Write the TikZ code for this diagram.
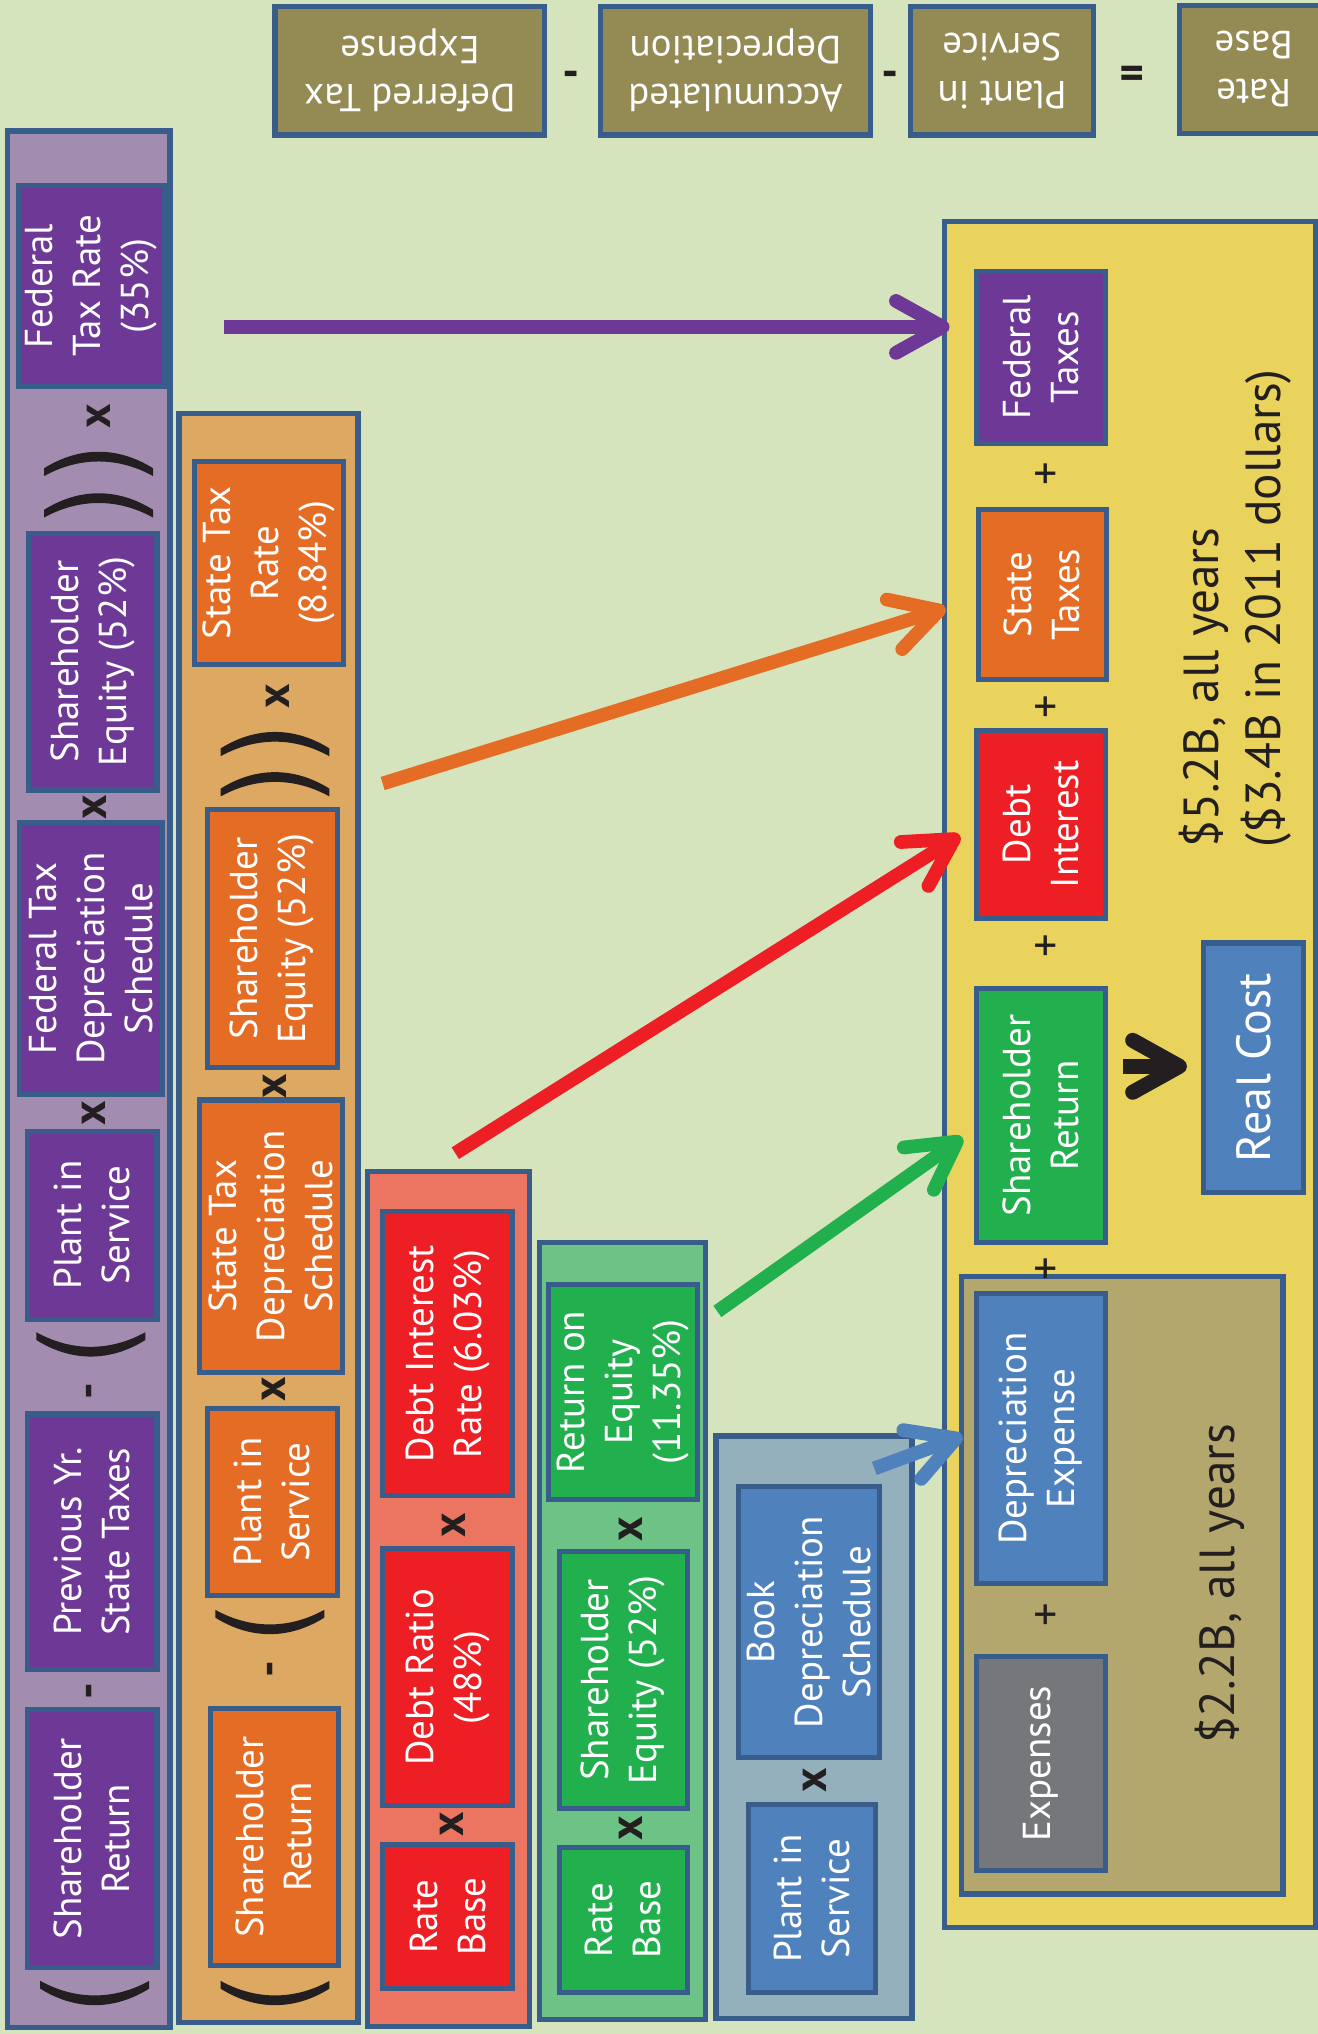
\documentclass[tikz,border=0pt]{standalone}
\usepackage{fontspec}
\setmainfont{PT Sans}
\usetikzlibrary{arrows.meta}
\definecolor{bg}{HTML}{D6E4BD}
\definecolor{bordc}{HTML}{385D8A}
\definecolor{cpurple}{HTML}{6E3996}
\definecolor{ppanel}{HTML}{A28CB0}
\definecolor{corange}{HTML}{E46C25}
\definecolor{opanel}{HTML}{DDA862}
\definecolor{cred}{HTML}{ED1F24}
\definecolor{rpanel}{HTML}{EC7562}
\definecolor{cgreen}{HTML}{22B04F}
\definecolor{gpanel}{HTML}{6DC385}
\definecolor{cblue}{HTML}{4F81BD}
\definecolor{bpanel}{HTML}{93B0BC}
\definecolor{cyellow}{HTML}{EAD35C}
\definecolor{cbrown}{HTML}{B4A76E}
\definecolor{cgray}{HTML}{76777B}
\definecolor{colive}{HTML}{948A54}
\definecolor{cblack}{HTML}{231F20}
\tikzset{
  bx/.style={draw=bordc, line width=2pt, text=white, align=center, inner sep=0pt,
    font=\fontsize{15}{18.5}\selectfont},
  panel/.style={draw=bordc, line width=2pt, inner sep=0pt},
  op/.style={font=\fontsize{18}{18}\selectfont, text=cblack, inner sep=0pt},
  opb/.style={font=\fontsize{18}{18}\selectfont\bfseries, text=cblack, inner sep=0pt},
  biglab/.style={font=\fontsize{19}{24}\selectfont, text=cblack, inner sep=0pt},
  arr/.style={line width=5.3pt, -{Straight Barb[length=18pt,width=20pt,round]}},
  rpar/.pic={\fill[cblack] (-42,4) .. controls (-15,-13) and (15,-13) .. (42,4)
     -- (42,10) .. controls (15,-5) and (-15,-5) .. (-42,10) -- cycle;}
}
\newcommand\mkbox[7]{\node[bx,fill=#2,rotate=90,minimum width={(#6-#4)*0.5pt},minimum height={(#5-#3)*0.5pt}] (#1) at ({(#3+#5)/2},{(#4+#6)/2}) {#7};}
\newcommand\mktop[6]{\node[bx,fill=colive,rotate=180,minimum width={(#4-#2)*0.5pt},minimum height={(#5-#3)*0.5pt}] (#1) at ({(#2+#4)/2},{(#3+#5)/2}) {#6};}
\newcommand\mkpanel[6]{\node[panel,fill=#2,minimum width={(#5-#3)*0.5pt},minimum height={(#6-#4)*0.5pt}] (#1) at ({(#3+#5)/2},{(#4+#6)/2}) {};}
\begin{document}
\begin{tikzpicture}[x=0.5pt,y=-0.5pt]
\fill[bg] (0,0) rectangle (1016,1568);
\useasboundingbox (0,0) rectangle (1016,1568);

% top row
\mktop{tdt}{212}{5}{420}{104}{Deferred Tax\\Expense}
\mktop{tad}{463}{5}{671}{104}{Accumulated\\Depreciation}
\mktop{tps}{702}{5}{843}{104}{Plant in\\Service}
\mktop{trb}{909}{4}{1024}{103}{Rate\\Base}
\node[opb,rotate=180] (t1) at (440,53) {-};
\node[opb,rotate=180] (t2) at (686,53) {-};
\node[opb,rotate=180] (t3) at (873,53) {=};

% panels
\mkpanel{ppan}{ppanel}{6}{101}{131}{1563}
\mkpanel{opan}{opanel}{138}{319}{276}{1559}
\mkpanel{rpan}{rpanel}{283}{903}{408}{1562}
\mkpanel{gpan}{gpanel}{416}{958}{544}{1557}
\mkpanel{bpan}{bpanel}{552}{1107}{703}{1556}
\mkpanel{ybox}{cyellow}{728}{171}{1014}{1486}
\mkpanel{brbox}{cbrown}{741}{984}{989}{1460}

% purple panel
\mkbox{pfr}{cpurple}{14}{143}{127}{298}{Federal\\Tax Rate\\(35\%)}
\mkbox{pse}{cpurple}{22}{411}{121}{609}{Shareholder\\Equity (52\%)}
\mkbox{pfd}{cpurple}{15}{634}{125}{844}{Federal Tax\\Depreciation\\Schedule}
\mkbox{pps}{cpurple}{21}{872}{121}{1017}{Plant in\\Service}
\mkbox{ppy}{cpurple}{21}{1090}{121}{1287}{Previous Yr.\\State Taxes}
\mkbox{psr}{cpurple}{21}{1318}{121}{1517}{Shareholder\\Return}
\node[opb,rotate=90] (p1) at (76,321) {x};
\node[opb,rotate=90] (p2) at (73,622) {x};
\node[opb,rotate=90] (p3) at (72,858) {x};
\node[opb,rotate=90] (p4) at (73,1072) {-};
\node[opb,rotate=90] (p5) at (73,1304) {-};
\pic at (76,357) {rpar};
\pic at (76,389) {rpar};
\pic[yscale=-1] at (70,1037) {rpar};
\pic[yscale=-1] at (73,1537) {rpar};

% orange panel
\mkbox{ostr}{corange}{150}{356}{265}{512}{State Tax\\Rate\\(8.84\%)}
\mkbox{ose}{corange}{160}{624}{260}{823}{Shareholder\\Equity (52\%)}
\mkbox{osd}{corange}{154}{848}{264}{1058}{State Tax\\Depreciation\\Schedule}
\mkbox{ops}{corange}{160}{1086}{260}{1230}{Plant in\\Service}
\mkbox{osr}{corange}{162}{1317}{261}{1515}{Shareholder\\Return}
\node[opb,rotate=90] (o1) at (214,537) {x};
\node[opb,rotate=90] (o2) at (212,837) {x};
\node[opb,rotate=90] (o3) at (211,1071) {x};
\node[opb,rotate=90] (o4) at (212,1287) {-};
\pic at (212,573) {rpar};
\pic at (212,604) {rpar};
\pic[yscale=-1] at (208,1251) {rpar};
\pic[yscale=-1] at (212,1537) {rpar};

% red panel
\mkbox{rdi}{cred}{295}{934}{395}{1153}{Debt Interest\\Rate (6.03\%)}
\mkbox{rdr}{cred}{295}{1194}{395}{1392}{Debt Ratio\\(48\%)}
\mkbox{rrb}{cred}{295}{1422}{395}{1533}{Rate\\Base}
\node[opb,rotate=90] (r1) at (350,1176) {x};
\node[opb,rotate=90] (r2) at (348,1406) {x};

% green panel
\mkbox{groe}{cgreen}{423}{990}{538}{1156}{Return on\\Equity\\(11.35\%)}
\mkbox{gse}{cgreen}{431}{1196}{530}{1394}{Shareholder\\Equity (52\%)}
\mkbox{grb}{cgreen}{431}{1424}{530}{1536}{Rate\\Base}
\node[opb,rotate=90] (g1) at (486,1179) {x};
\node[opb,rotate=90] (g2) at (486,1409) {x};

% blue panel
\mkbox{bbd}{cblue}{569}{1146}{678}{1355}{Book\\Depreciation\\Schedule}
\mkbox{bps}{cblue}{577}{1391}{675}{1536}{Plant in\\Service}
\node[opb,rotate=90] (b1) at (628,1372) {x};

% yellow box
\mkbox{yft}{cpurple}{753}{209}{852}{342}{Federal\\Taxes}
\mkbox{yst}{corange}{754}{393}{853}{524}{State\\Taxes}
\mkbox{ydi}{cred}{753}{563}{852}{708}{Debt\\Interest}
\mkbox{ysr}{cgreen}{753}{762}{852}{958}{Shareholder\\Return}
\mkbox{yde}{cblue}{753}{997}{852}{1221}{Depreciation\\Expense}
\mkbox{yex}{cgray}{753}{1277}{852}{1442}{Expenses}
\mkbox{yrc}{cblue}{928}{727}{1005}{919}{\fontsize{18.5}{20}\selectfont Real Cost}
\node[op,rotate=90] (y1) at (808,365) {+};
\node[op,rotate=90] (y2) at (808,545) {+};
\node[op,rotate=90] (y3) at (808,729) {+};
\node[op,rotate=90] (y4) at (808,978) {+};
\node[op,rotate=90] (y5) at (808,1245) {+};
\node[biglab,rotate=90,align=left] (lab1) at (952,469) {\$5.2B, all years\\(\$3.4B in 2011 dollars)};
\node[biglab,rotate=90] (lab2) at (940,1221) {\$2.2B, all years};

% arrows
\coordinate (pa) at (173,252);  \coordinate (pb) at (732,252);
\coordinate (oa) at (295,604);  \coordinate (ob) at (729,469);
\coordinate (ra) at (351,889);  \coordinate (rb) at (740,644);
\coordinate (ga) at (553,1011); \coordinate (gb) at (742,877);
\coordinate (ba) at (674,1132); \coordinate (bb) at (742,1107);
\coordinate (ka) at (866,822);
\draw[arr,draw=cpurple] (pa) -- (pb);
\draw[arr,draw=corange] (oa) -- (ob);
\draw[arr,draw=cred] (ra) -- (rb);
\draw[arr,draw=cgreen] (ga) -- (gb);
\draw[arr,draw=cblue] (ba) -- (bb);
\draw[arr,draw=cblack,line width=5.8pt,shorten >=5.5pt] (ka) -- (ka -| yrc.north);
\end{tikzpicture}
\end{document}
